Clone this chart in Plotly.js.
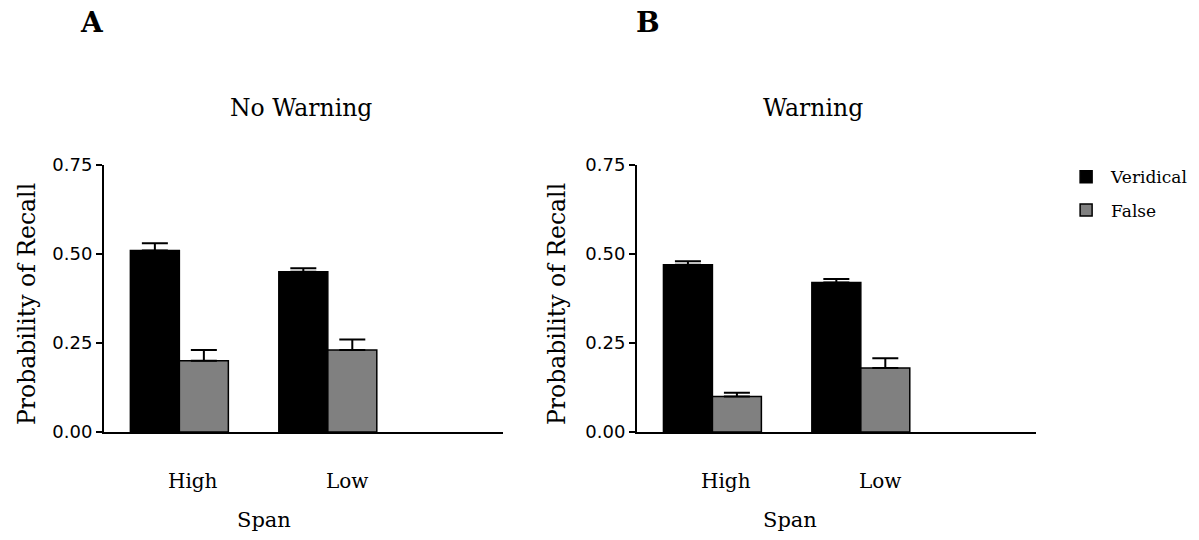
<!DOCTYPE html>
<html>
<head>
<meta charset="utf-8">
<script src="https://cdn.plot.ly/plotly-3.0.1.min.js"></script>
<style>html,body{margin:0;padding:0;background:#fff;}#chart{width:1199px;height:540px;}</style>
</head>
<body>
<div id="chart"></div>
<script>
// Data
var categories = ["High", "Low"];
var noWarningVeridical = [0.51, 0.45];
var noWarningVeridicalErr = [0.02, 0.01];
var noWarningFalse = [0.20, 0.23];
var noWarningFalseErr = [0.03, 0.03];
var warningVeridical = [0.47, 0.42];
var warningVeridicalErr = [0.01, 0.01];
var warningFalse = [0.10, 0.18];
var warningFalseErr = [0.01, 0.027];
var yTicks = [0, 0.25, 0.5, 0.75];
var yTickText = ["0.00", "0.25", "0.50", "0.75"];

var xpos = categories.map(function(_, i){ return i; });
var labelPos = xpos.map(function(v, i){ return v + (i === 0 ? 0.09 : 0.13); });

var serif = "DejaVu Serif, serif";
var sans = "DejaVu Sans, sans-serif";

function barTrace(y, err, color, name, xa, ya, show) {
  return {
    type: "bar", x: xpos, y: y, name: name, xaxis: xa, yaxis: ya,
    showlegend: show, legendgroup: name,
    marker: {color: color, line: {color: "#000", width: 1.5}},
    error_y: {type: "data", array: err, symmetric: false,
              arrayminus: err.map(function(){return 0;}),
              color: "#000", thickness: 2, width: 13},
    hoverinfo: "y"
  };
}

var data = [
  barTrace(noWarningVeridical, noWarningVeridicalErr, "#000000", "Veridical", "x", "y", true),
  barTrace(noWarningFalse, noWarningFalseErr, "#808080", "False", "x", "y", true),
  barTrace(warningVeridical, warningVeridicalErr, "#000000", "Veridical", "x2", "y2", false),
  barTrace(warningFalse, warningFalseErr, "#808080", "False", "x2", "y2", false)
];

function xAxis(domain, anchor) {
  return {
    domain: domain, anchor: anchor, range: [-0.508, 2.18],
    showgrid: false, zeroline: false, showline: true, linecolor: "#000", linewidth: 2,
    ticks: "", tickvals: labelPos, ticktext: categories,
    ticklabelstandoff: 30,
    tickfont: {family: serif, size: 20, color: "#000"},
    fixedrange: true
  };
}
function yAxis(domain, anchor) {
  return {
    domain: domain, anchor: anchor, range: [0, 0.75],
    showgrid: false, zeroline: false, showline: true, linecolor: "#000", linewidth: 2,
    ticks: "outside", ticklen: 6, tickwidth: 2, tickcolor: "#000",
    tickvals: yTicks, ticktext: yTickText,
    tickfont: {family: sans, size: 18, color: "#000"},
    fixedrange: true
  };
}

var layout = {
  width: 1199, height: 540,
  margin: {l: 0, r: 0, t: 0, b: 0},
  paper_bgcolor: "#fff", plot_bgcolor: "#fff",
  barmode: "group", bargap: 0.34, bargroupgap: 0,
  xaxis: xAxis([0.0867, 0.4195], "y"),
  yaxis: yAxis([0.2, 0.6944], "x"),
  xaxis2: xAxis([0.5313, 0.864], "y2"),
  yaxis2: yAxis([0.2, 0.6944], "x2"),
  showlegend: true,
  legend: {
    x: 0.885, y: 0.705, xanchor: "left", yanchor: "top",
    font: {family: serif, size: 17, color: "#000"},
    tracegroupgap: 8, itemwidth: 40, bgcolor: "rgba(0,0,0,0)"
  },
  annotations: [
    {text: "<b>A</b>", xref: "paper", yref: "paper", x: 92/1199, y: 1 - 22/540, showarrow: false,
     font: {family: serif, size: 28, color: "#000"}, xanchor: "center", yanchor: "middle"},
    {text: "<b>B</b>", xref: "paper", yref: "paper", x: 648/1199, y: 1 - 22/540, showarrow: false,
     font: {family: serif, size: 28, color: "#000"}, xanchor: "center", yanchor: "middle"},
    {text: "No Warning", xref: "paper", yref: "paper", x: 301/1199, y: 1 - 108/540, showarrow: false,
     font: {family: serif, size: 23.5, color: "#000"}, xanchor: "center", yanchor: "middle"},
    {text: "Warning", xref: "paper", yref: "paper", x: 813/1199, y: 1 - 108/540, showarrow: false,
     font: {family: serif, size: 23.5, color: "#000"}, xanchor: "center", yanchor: "middle"},
    {text: "Span", xref: "paper", yref: "paper", x: 264/1199, y: 1 - 520/540, showarrow: false,
     font: {family: serif, size: 21, color: "#000"}, xanchor: "center", yanchor: "middle"},
    {text: "Span", xref: "paper", yref: "paper", x: 790/1199, y: 1 - 520/540, showarrow: false,
     font: {family: serif, size: 21, color: "#000"}, xanchor: "center", yanchor: "middle"},
    {text: "Probability of Recall", xref: "paper", yref: "paper", x: 27/1199, y: 1 - 304/540, showarrow: false,
     textangle: -90, font: {family: serif, size: 23.5, color: "#000"}, xanchor: "center", yanchor: "middle"},
    {text: "Probability of Recall", xref: "paper", yref: "paper", x: 557/1199, y: 1 - 304/540, showarrow: false,
     textangle: -90, font: {family: serif, size: 23.5, color: "#000"}, xanchor: "center", yanchor: "middle"}
  ]
};

Plotly.newPlot("chart", data, layout, {displayModeBar: false, staticPlot: true});
</script>
</body>
</html>
